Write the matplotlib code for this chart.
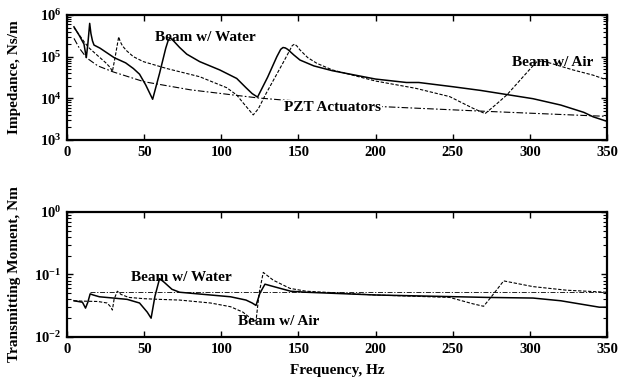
import matplotlib
matplotlib.use("Agg")
import matplotlib.pyplot as plt
from matplotlib.ticker import LogLocator, NullFormatter, FixedLocator

plt.rcParams['font.family'] = ['Liberation Serif', 'DejaVu Serif']
plt.rcParams['font.weight'] = 'bold'
plt.rcParams['mathtext.fontset'] = 'custom'
plt.rcParams['mathtext.rm'] = 'Liberation Serif:bold'
plt.rcParams['mathtext.it'] = 'Liberation Serif:bold'
plt.rcParams['mathtext.bf'] = 'Liberation Serif:bold'

# ---- Top panel: impedance (Ns/m) ----
water_imp_f = [4.5, 8, 11, 12.5, 13.5, 14.7, 15.5, 16.5, 17.5, 21.4, 30.5, 38, 43, 47, 51, 55.5,
               60, 64, 65.5, 66.5, 67.5, 69, 73, 77.6, 86, 99, 110, 116, 120, 123.5, 130, 136,
               138.5, 140, 141.5, 143, 147, 151, 160, 172, 200, 220, 228, 250, 268, 302,
               320, 335, 341, 350]
water_imp = [5.2e5, 3.2e5, 2.0e5, 9.5e4, 2.0e5, 6.3e5, 3.6e5, 2.4e5, 1.9e5, 1.6e5, 9.5e4,
             7.1e4, 5.2e4, 3.8e4, 2.1e4, 9.5e3, 4.0e4, 1.6e5, 2.4e5, 2.75e5, 2.7e5, 2.4e5,
             1.66e5, 1.15e5, 7.6e4, 4.8e4, 3.0e4, 1.8e4, 1.3e4, 1.07e4, 3.2e4, 1.0e5,
             1.5e5, 1.66e5, 1.62e5, 1.5e5, 1.1e5, 8.3e4, 6.0e4, 4.6e4, 2.9e4, 2.4e4,
             2.4e4, 1.9e4, 1.55e4, 9.8e3, 6.9e3, 4.6e3, 3.6e3, 2.8e3]

air_imp_f = [4.5, 8, 11, 14, 20, 25, 28, 29.4, 31, 33.5, 34.5, 36, 38.7, 43, 49.5, 64.6, 86,
             103.5, 110, 114, 120.7, 124, 129, 140, 146, 147.5, 149, 151, 156, 162, 172,
             200, 226, 248, 263, 271, 278, 285, 300, 305, 310, 328, 341, 350]
air_imp = [5.0e5, 3.3e5, 2.3e5, 1.66e5, 1.05e5, 7.2e4, 5.5e4, 4.4e4, 8.9e4, 3.0e5, 2.3e5,
           1.8e5, 1.38e5, 1.0e5, 7.6e4, 5.2e4, 3.3e4, 1.8e4, 1.2e4, 7.9e3, 4.0e3, 5.6e3,
           1.3e4, 7.1e4, 1.85e5, 2.0e5, 1.8e5, 1.45e5, 9.5e4, 6.9e4, 4.8e4, 2.6e4,
           1.74e4, 1.1e4, 5.8e3, 4.3e3, 7.1e3, 1.2e4, 5.0e4, 7.9e4, 7.6e4, 4.8e4,
           3.6e4, 2.75e4]

pzt_imp_f = [4.5, 8, 12.8, 20, 30, 50, 80, 108, 124, 140, 205, 270, 341, 350]
pzt_imp = [2.75e5, 1.6e5, 9.3e4, 6.0e4, 4.3e4, 2.5e4, 1.6e4, 1.2e4, 1.02e4, 9.1e3, 6.3e3,
           4.9e3, 3.8e3, 3.7e3]

# ---- Bottom panel: transmitting moment (Nm) ----
water_mom_f = [4.5, 10, 12, 13.5, 15, 17, 21, 30, 39, 47, 52, 54.5, 57, 60, 63, 68, 73, 93,
               106, 116, 120, 122.5, 125, 128.3, 134, 145, 155, 200, 272, 302, 320, 345, 350]
water_mom = [0.038, 0.036, 0.029, 0.036, 0.049, 0.047, 0.044, 0.042, 0.040, 0.035, 0.025,
             0.020, 0.045, 0.086, 0.075, 0.058, 0.052, 0.047, 0.044, 0.039, 0.035, 0.032,
             0.050, 0.070, 0.064, 0.054, 0.052, 0.047, 0.043, 0.042, 0.038, 0.030, 0.030]

air_mom_f = [4.5, 10, 20, 26, 28.5, 29.4, 30.5, 32.6, 35, 40, 50, 60, 73, 93, 106, 114, 120,
             122.5, 124.5, 127.2, 133.7, 144.5, 155, 200, 248, 263, 270, 275, 283, 302, 324, 350]
air_mom = [0.038, 0.0375, 0.037, 0.035, 0.030, 0.027, 0.040, 0.054, 0.048, 0.043, 0.041,
           0.040, 0.039, 0.035, 0.0305, 0.025, 0.019, 0.018, 0.050, 0.108, 0.081, 0.060,
           0.054, 0.047, 0.043, 0.034, 0.031, 0.044, 0.079, 0.064, 0.056, 0.052]

ref_mom_f = [15, 350]
ref_mom = [0.052, 0.052]

x_ticks = [0, 50, 100, 150, 200, 250, 300, 350]

fig = plt.figure(figsize=(6.28, 3.83), dpi=100)
ax1 = fig.add_axes([0.1067, 0.6345, 0.8599, 0.3263])
ax2 = fig.add_axes([0.1067, 0.1201, 0.8599, 0.3264])

lw_solid = 1.1
ax1.plot(water_imp_f, water_imp, color='black', lw=lw_solid, ls='-')
ax1.plot(air_imp_f, air_imp, color='black', lw=0.8, ls=(0, (3, 1.5)))
ax1.plot(pzt_imp_f, pzt_imp, color='black', lw=0.8, ls=(0, (6, 2, 1.5, 2)))

ax2.plot(water_mom_f, water_mom, color='black', lw=lw_solid, ls='-')
ax2.plot(air_mom_f, air_mom, color='black', lw=0.8, ls=(0, (3, 1.5)))
ax2.plot(ref_mom_f, ref_mom, color='black', lw=0.6, ls=(0, (6, 2, 1.5, 2)))

tb = dict(fontsize=11, fontweight='bold', ha='center', va='center', zorder=5)
ax1.text(89.4, 10**5.47, 'Beam w/ Water', **tb)
ax1.text(315, 10**4.87, 'Beam w/ Air', **tb)
ax1.text(172, 10**3.78, 'PZT Actuators',
         bbox=dict(facecolor='white', edgecolor='none', pad=0.5), **tb)
ax2.text(74, 10**-1.045, 'Beam w/ Water', **tb)
ax2.text(137.4, 10**-1.755, 'Beam w/ Air', **tb)

for ax, ylim, label in [(ax1, (1e3, 1e6), 'Impedance, Ns/m'),
                        (ax2, (1e-2, 1e0), 'Transmitting Moment, Nm')]:
    ax.set_yscale('log')
    ax.set_xlim(0, 350)
    ax.set_ylim(*ylim)
    ax.xaxis.set_major_locator(FixedLocator(x_ticks))
    ax.set_xticklabels([str(t) for t in x_ticks])
    ax.yaxis.set_major_locator(LogLocator(base=10, numticks=10))
    ax.yaxis.set_minor_locator(LogLocator(base=10, subs=range(2, 10), numticks=20))
    ax.yaxis.set_minor_formatter(NullFormatter())
    ax.tick_params(which='both', direction='in', top=True, right=True,
                   labelsize=10.5, pad=4)
    ax.tick_params(which='major', length=4, width=1)
    ax.tick_params(which='minor', length=3, width=0.8)
    for s in ax.spines.values():
        s.set_linewidth(1.6)
    ax.set_ylabel(label, fontsize=11, fontweight='bold')
    ax.yaxis.set_label_coords(-0.085, 0.5)
    for t in ax.get_xticklabels() + ax.get_yticklabels():
        t.set_fontweight('bold')

ax1.set_yticks([1e3, 1e4, 1e5, 1e6])
ax1.set_yticklabels([r'$\mathregular{10^{3}}$', r'$\mathregular{10^{4}}$',
                     r'$\mathregular{10^{5}}$', r'$\mathregular{10^{6}}$'])
ax2.set_yticks([1e-2, 1e-1, 1e0])
ax2.set_yticklabels([r'$\mathregular{10^{-2}}$', r'$\mathregular{10^{-1}}$',
                     r'$\mathregular{10^{0}}$'])
ax2.set_xlabel('Frequency, Hz', fontsize=11, fontweight='bold', labelpad=6)

fig.savefig('out.png', dpi=100)
